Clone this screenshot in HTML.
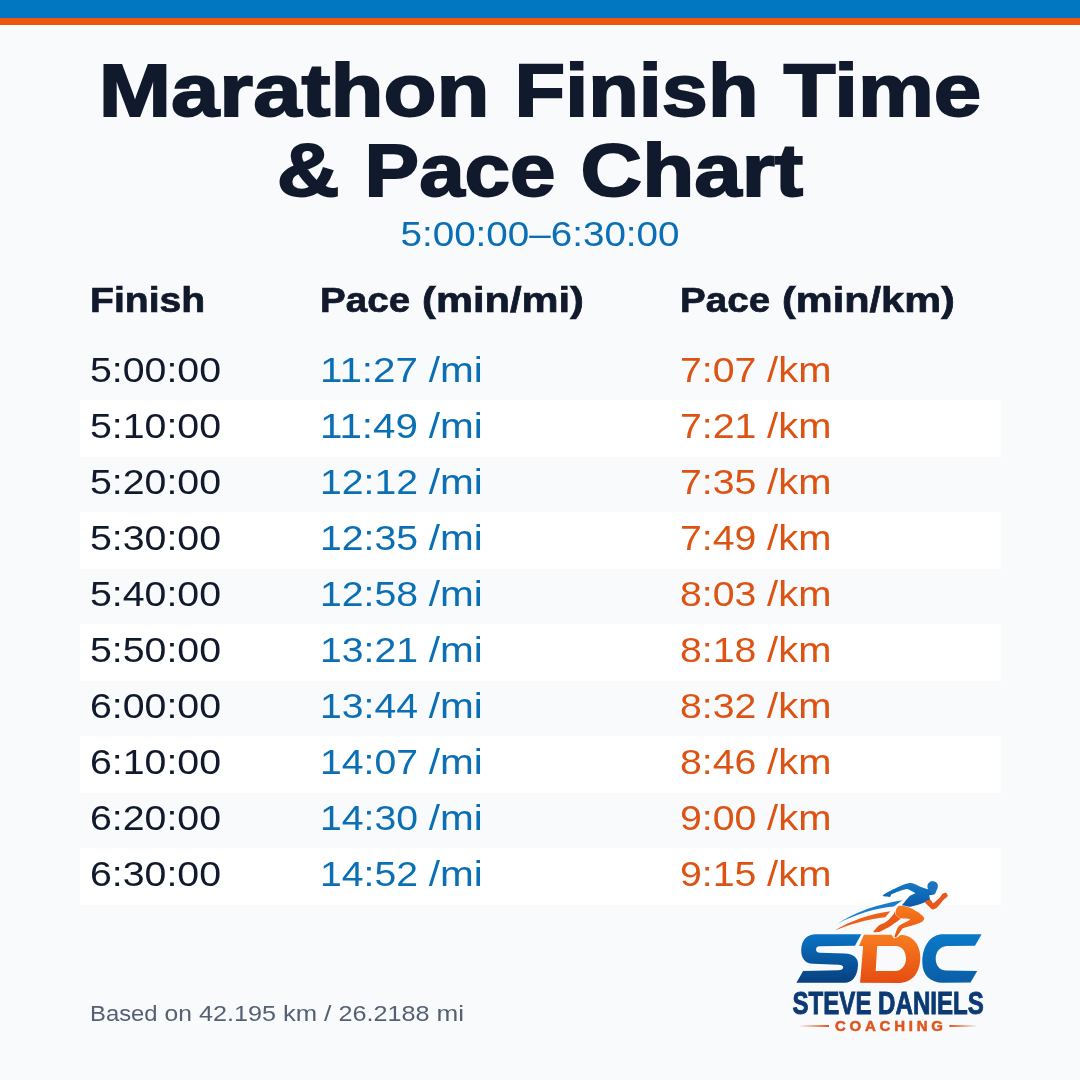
<!DOCTYPE html>
<html><head><meta charset="utf-8"><style>
html,body{margin:0;padding:0;background:#f8fafc;width:1080px;height:1080px;overflow:hidden}
svg{display:block;will-change:transform}
text{font-family:"Liberation Sans",sans-serif}
</style></head><body>
<svg width="1080" height="1080" viewBox="0 0 1080 1080">
<rect width="1080" height="1080" fill="#f8fafc"/>
<rect x="0" y="0" width="1080" height="18" fill="#0277c1"/>
<rect x="0" y="18" width="1080" height="7" fill="#ee5511"/>
<rect x="80" y="400" width="921" height="57" fill="#ffffff"/>
<rect x="80" y="512" width="921" height="57" fill="#ffffff"/>
<rect x="80" y="624" width="921" height="57" fill="#ffffff"/>
<rect x="80" y="736" width="921" height="57" fill="#ffffff"/>
<rect x="80" y="848" width="921" height="57" fill="#ffffff"/>
<text x="98.74" y="116.20" font-size="73.44" font-weight="700" fill="#111a2c" stroke="#111a2c" stroke-width="1.8" textLength="390.78" lengthAdjust="spacingAndGlyphs">Marathon</text>
<text x="514.59" y="116.20" font-size="73.44" font-weight="700" fill="#111a2c" stroke="#111a2c" stroke-width="1.8" textLength="243.95" lengthAdjust="spacingAndGlyphs">Finish</text>
<text x="783.60" y="116.20" font-size="73.44" font-weight="700" fill="#111a2c" stroke="#111a2c" stroke-width="1.8" textLength="197.66" lengthAdjust="spacingAndGlyphs">Time</text>
<text x="276.75" y="196.40" font-size="73.44" font-weight="700" fill="#111a2c" stroke="#111a2c" stroke-width="1.8" textLength="62.80" lengthAdjust="spacingAndGlyphs">&amp;</text>
<text x="364.61" y="196.40" font-size="73.44" font-weight="700" fill="#111a2c" stroke="#111a2c" stroke-width="1.8" textLength="190.94" lengthAdjust="spacingAndGlyphs">Pace</text>
<text x="580.61" y="196.40" font-size="73.44" font-weight="700" fill="#111a2c" stroke="#111a2c" stroke-width="1.8" textLength="222.64" lengthAdjust="spacingAndGlyphs">Chart</text>
<text x="400.47" y="246.00" font-size="34.68" font-weight="400" fill="#0a6fb5" stroke="#0a6fb5" stroke-width="0" textLength="279.06" lengthAdjust="spacingAndGlyphs">5:00:00–6:30:00</text>
<text x="90.00" y="312.00" font-size="35.53" font-weight="700" fill="#111a2c" stroke="#111a2c" stroke-width="0.7" textLength="115.17" lengthAdjust="spacingAndGlyphs">Finish</text>
<text x="320.00" y="312.00" font-size="35.53" font-weight="700" fill="#111a2c" stroke="#111a2c" stroke-width="0.7" textLength="90.17" lengthAdjust="spacingAndGlyphs">Pace</text>
<text x="422.02" y="312.00" font-size="35.53" font-weight="700" fill="#111a2c" stroke="#111a2c" stroke-width="0.7" textLength="161.88" lengthAdjust="spacingAndGlyphs">(min/mi)</text>
<text x="680.00" y="312.00" font-size="35.53" font-weight="700" fill="#111a2c" stroke="#111a2c" stroke-width="0.7" textLength="90.17" lengthAdjust="spacingAndGlyphs">Pace</text>
<text x="782.02" y="312.00" font-size="35.53" font-weight="700" fill="#111a2c" stroke="#111a2c" stroke-width="0.7" textLength="172.83" lengthAdjust="spacingAndGlyphs">(min/km)</text>
<text x="90.00" y="381.50" font-size="34.68" font-weight="400" fill="#111a2c" stroke="#111a2c" stroke-width="0" textLength="131.03" lengthAdjust="spacingAndGlyphs">5:00:00</text>
<text x="320.00" y="381.50" font-size="34.68" font-weight="400" fill="#0a6fb5" stroke="#0a6fb5" stroke-width="0" textLength="97.95" lengthAdjust="spacingAndGlyphs">11:27</text>
<text x="428.77" y="381.50" font-size="34.68" font-weight="400" fill="#0a6fb5" stroke="#0a6fb5" stroke-width="0" textLength="54.03" lengthAdjust="spacingAndGlyphs">/mi</text>
<text x="680.00" y="381.50" font-size="34.68" font-weight="400" fill="#dc5314" stroke="#dc5314" stroke-width="0" textLength="76.33" lengthAdjust="spacingAndGlyphs">7:07</text>
<text x="767.14" y="381.50" font-size="34.68" font-weight="400" fill="#dc5314" stroke="#dc5314" stroke-width="0" textLength="64.27" lengthAdjust="spacingAndGlyphs">/km</text>
<text x="90.00" y="437.50" font-size="34.68" font-weight="400" fill="#111a2c" stroke="#111a2c" stroke-width="0" textLength="131.03" lengthAdjust="spacingAndGlyphs">5:10:00</text>
<text x="320.00" y="437.50" font-size="34.68" font-weight="400" fill="#0a6fb5" stroke="#0a6fb5" stroke-width="0" textLength="97.95" lengthAdjust="spacingAndGlyphs">11:49</text>
<text x="428.77" y="437.50" font-size="34.68" font-weight="400" fill="#0a6fb5" stroke="#0a6fb5" stroke-width="0" textLength="54.03" lengthAdjust="spacingAndGlyphs">/mi</text>
<text x="680.00" y="437.50" font-size="34.68" font-weight="400" fill="#dc5314" stroke="#dc5314" stroke-width="0" textLength="76.33" lengthAdjust="spacingAndGlyphs">7:21</text>
<text x="767.14" y="437.50" font-size="34.68" font-weight="400" fill="#dc5314" stroke="#dc5314" stroke-width="0" textLength="64.27" lengthAdjust="spacingAndGlyphs">/km</text>
<text x="90.00" y="493.50" font-size="34.68" font-weight="400" fill="#111a2c" stroke="#111a2c" stroke-width="0" textLength="131.03" lengthAdjust="spacingAndGlyphs">5:20:00</text>
<text x="320.00" y="493.50" font-size="34.68" font-weight="400" fill="#0a6fb5" stroke="#0a6fb5" stroke-width="0" textLength="97.95" lengthAdjust="spacingAndGlyphs">12:12</text>
<text x="428.77" y="493.50" font-size="34.68" font-weight="400" fill="#0a6fb5" stroke="#0a6fb5" stroke-width="0" textLength="54.03" lengthAdjust="spacingAndGlyphs">/mi</text>
<text x="680.00" y="493.50" font-size="34.68" font-weight="400" fill="#dc5314" stroke="#dc5314" stroke-width="0" textLength="76.33" lengthAdjust="spacingAndGlyphs">7:35</text>
<text x="767.14" y="493.50" font-size="34.68" font-weight="400" fill="#dc5314" stroke="#dc5314" stroke-width="0" textLength="64.27" lengthAdjust="spacingAndGlyphs">/km</text>
<text x="90.00" y="549.50" font-size="34.68" font-weight="400" fill="#111a2c" stroke="#111a2c" stroke-width="0" textLength="131.03" lengthAdjust="spacingAndGlyphs">5:30:00</text>
<text x="320.00" y="549.50" font-size="34.68" font-weight="400" fill="#0a6fb5" stroke="#0a6fb5" stroke-width="0" textLength="97.95" lengthAdjust="spacingAndGlyphs">12:35</text>
<text x="428.77" y="549.50" font-size="34.68" font-weight="400" fill="#0a6fb5" stroke="#0a6fb5" stroke-width="0" textLength="54.03" lengthAdjust="spacingAndGlyphs">/mi</text>
<text x="680.00" y="549.50" font-size="34.68" font-weight="400" fill="#dc5314" stroke="#dc5314" stroke-width="0" textLength="76.33" lengthAdjust="spacingAndGlyphs">7:49</text>
<text x="767.14" y="549.50" font-size="34.68" font-weight="400" fill="#dc5314" stroke="#dc5314" stroke-width="0" textLength="64.27" lengthAdjust="spacingAndGlyphs">/km</text>
<text x="90.00" y="605.50" font-size="34.68" font-weight="400" fill="#111a2c" stroke="#111a2c" stroke-width="0" textLength="131.03" lengthAdjust="spacingAndGlyphs">5:40:00</text>
<text x="320.00" y="605.50" font-size="34.68" font-weight="400" fill="#0a6fb5" stroke="#0a6fb5" stroke-width="0" textLength="97.95" lengthAdjust="spacingAndGlyphs">12:58</text>
<text x="428.77" y="605.50" font-size="34.68" font-weight="400" fill="#0a6fb5" stroke="#0a6fb5" stroke-width="0" textLength="54.03" lengthAdjust="spacingAndGlyphs">/mi</text>
<text x="680.00" y="605.50" font-size="34.68" font-weight="400" fill="#dc5314" stroke="#dc5314" stroke-width="0" textLength="76.33" lengthAdjust="spacingAndGlyphs">8:03</text>
<text x="767.14" y="605.50" font-size="34.68" font-weight="400" fill="#dc5314" stroke="#dc5314" stroke-width="0" textLength="64.27" lengthAdjust="spacingAndGlyphs">/km</text>
<text x="90.00" y="661.50" font-size="34.68" font-weight="400" fill="#111a2c" stroke="#111a2c" stroke-width="0" textLength="131.03" lengthAdjust="spacingAndGlyphs">5:50:00</text>
<text x="320.00" y="661.50" font-size="34.68" font-weight="400" fill="#0a6fb5" stroke="#0a6fb5" stroke-width="0" textLength="97.95" lengthAdjust="spacingAndGlyphs">13:21</text>
<text x="428.77" y="661.50" font-size="34.68" font-weight="400" fill="#0a6fb5" stroke="#0a6fb5" stroke-width="0" textLength="54.03" lengthAdjust="spacingAndGlyphs">/mi</text>
<text x="680.00" y="661.50" font-size="34.68" font-weight="400" fill="#dc5314" stroke="#dc5314" stroke-width="0" textLength="76.33" lengthAdjust="spacingAndGlyphs">8:18</text>
<text x="767.14" y="661.50" font-size="34.68" font-weight="400" fill="#dc5314" stroke="#dc5314" stroke-width="0" textLength="64.27" lengthAdjust="spacingAndGlyphs">/km</text>
<text x="90.00" y="717.50" font-size="34.68" font-weight="400" fill="#111a2c" stroke="#111a2c" stroke-width="0" textLength="131.03" lengthAdjust="spacingAndGlyphs">6:00:00</text>
<text x="320.00" y="717.50" font-size="34.68" font-weight="400" fill="#0a6fb5" stroke="#0a6fb5" stroke-width="0" textLength="97.95" lengthAdjust="spacingAndGlyphs">13:44</text>
<text x="428.77" y="717.50" font-size="34.68" font-weight="400" fill="#0a6fb5" stroke="#0a6fb5" stroke-width="0" textLength="54.03" lengthAdjust="spacingAndGlyphs">/mi</text>
<text x="680.00" y="717.50" font-size="34.68" font-weight="400" fill="#dc5314" stroke="#dc5314" stroke-width="0" textLength="76.33" lengthAdjust="spacingAndGlyphs">8:32</text>
<text x="767.14" y="717.50" font-size="34.68" font-weight="400" fill="#dc5314" stroke="#dc5314" stroke-width="0" textLength="64.27" lengthAdjust="spacingAndGlyphs">/km</text>
<text x="90.00" y="773.50" font-size="34.68" font-weight="400" fill="#111a2c" stroke="#111a2c" stroke-width="0" textLength="131.03" lengthAdjust="spacingAndGlyphs">6:10:00</text>
<text x="320.00" y="773.50" font-size="34.68" font-weight="400" fill="#0a6fb5" stroke="#0a6fb5" stroke-width="0" textLength="97.95" lengthAdjust="spacingAndGlyphs">14:07</text>
<text x="428.77" y="773.50" font-size="34.68" font-weight="400" fill="#0a6fb5" stroke="#0a6fb5" stroke-width="0" textLength="54.03" lengthAdjust="spacingAndGlyphs">/mi</text>
<text x="680.00" y="773.50" font-size="34.68" font-weight="400" fill="#dc5314" stroke="#dc5314" stroke-width="0" textLength="76.33" lengthAdjust="spacingAndGlyphs">8:46</text>
<text x="767.14" y="773.50" font-size="34.68" font-weight="400" fill="#dc5314" stroke="#dc5314" stroke-width="0" textLength="64.27" lengthAdjust="spacingAndGlyphs">/km</text>
<text x="90.00" y="829.50" font-size="34.68" font-weight="400" fill="#111a2c" stroke="#111a2c" stroke-width="0" textLength="131.03" lengthAdjust="spacingAndGlyphs">6:20:00</text>
<text x="320.00" y="829.50" font-size="34.68" font-weight="400" fill="#0a6fb5" stroke="#0a6fb5" stroke-width="0" textLength="97.95" lengthAdjust="spacingAndGlyphs">14:30</text>
<text x="428.77" y="829.50" font-size="34.68" font-weight="400" fill="#0a6fb5" stroke="#0a6fb5" stroke-width="0" textLength="54.03" lengthAdjust="spacingAndGlyphs">/mi</text>
<text x="680.00" y="829.50" font-size="34.68" font-weight="400" fill="#dc5314" stroke="#dc5314" stroke-width="0" textLength="76.33" lengthAdjust="spacingAndGlyphs">9:00</text>
<text x="767.14" y="829.50" font-size="34.68" font-weight="400" fill="#dc5314" stroke="#dc5314" stroke-width="0" textLength="64.27" lengthAdjust="spacingAndGlyphs">/km</text>
<text x="90.00" y="885.50" font-size="34.68" font-weight="400" fill="#111a2c" stroke="#111a2c" stroke-width="0" textLength="131.03" lengthAdjust="spacingAndGlyphs">6:30:00</text>
<text x="320.00" y="885.50" font-size="34.68" font-weight="400" fill="#0a6fb5" stroke="#0a6fb5" stroke-width="0" textLength="97.95" lengthAdjust="spacingAndGlyphs">14:52</text>
<text x="428.77" y="885.50" font-size="34.68" font-weight="400" fill="#0a6fb5" stroke="#0a6fb5" stroke-width="0" textLength="54.03" lengthAdjust="spacingAndGlyphs">/mi</text>
<text x="680.00" y="885.50" font-size="34.68" font-weight="400" fill="#dc5314" stroke="#dc5314" stroke-width="0" textLength="76.33" lengthAdjust="spacingAndGlyphs">9:15</text>
<text x="767.14" y="885.50" font-size="34.68" font-weight="400" fill="#dc5314" stroke="#dc5314" stroke-width="0" textLength="64.27" lengthAdjust="spacingAndGlyphs">/km</text>
<text x="90.00" y="1021.00" font-size="22.44" font-weight="400" fill="#546174" stroke="#546174" stroke-width="0" textLength="67.55" lengthAdjust="spacingAndGlyphs">Based</text>
<text x="164.55" y="1021.00" font-size="22.44" font-weight="400" fill="#546174" stroke="#546174" stroke-width="0" textLength="27.39" lengthAdjust="spacingAndGlyphs">on</text>
<text x="198.94" y="1021.00" font-size="22.44" font-weight="400" fill="#546174" stroke="#546174" stroke-width="0" textLength="77.00" lengthAdjust="spacingAndGlyphs">42.195</text>
<text x="282.94" y="1021.00" font-size="22.44" font-weight="400" fill="#546174" stroke="#546174" stroke-width="0" textLength="34.17" lengthAdjust="spacingAndGlyphs">km</text>
<text x="324.11" y="1021.00" font-size="22.44" font-weight="400" fill="#546174" stroke="#546174" stroke-width="0" textLength="7.41" lengthAdjust="spacingAndGlyphs">/</text>
<text x="338.52" y="1021.00" font-size="22.44" font-weight="400" fill="#546174" stroke="#546174" stroke-width="0" textLength="91.00" lengthAdjust="spacingAndGlyphs">26.2188</text>
<text x="436.52" y="1021.00" font-size="22.44" font-weight="400" fill="#546174" stroke="#546174" stroke-width="0" textLength="27.55" lengthAdjust="spacingAndGlyphs">mi</text>
<g id="logo">
<defs>
<linearGradient id="gS" x1="0" y1="0" x2="0" y2="1"><stop offset="0" stop-color="#0a74c4"/><stop offset="1" stop-color="#073f80"/></linearGradient>
<linearGradient id="gD" x1="0" y1="0" x2="0" y2="1"><stop offset="0" stop-color="#f77d1f"/><stop offset="1" stop-color="#e54c12"/></linearGradient>
<linearGradient id="gC" x1="0" y1="0" x2="0" y2="1"><stop offset="0" stop-color="#0a7ac8"/><stop offset="1" stop-color="#0a5ea6"/></linearGradient>
<linearGradient id="gB" x1="0" y1="0" x2="0" y2="1"><stop offset="0" stop-color="#1478c6"/><stop offset="1" stop-color="#0a5aa8"/></linearGradient>
<linearGradient id="gO" x1="0" y1="0" x2="0" y2="1"><stop offset="0" stop-color="#f77b1c"/><stop offset="1" stop-color="#e85514"/></linearGradient>
</defs>
<!-- S -->
<path d="M 861.3 934.3 L 855 945.8 L 819.5 946.3 Q 816 946.6 816 949.6 Q 816.3 952.8 820 952.8 L 845 953.4 C 853.5 953.6 858.5 958 858 965 C 857.5 977 852 982.6 845 982.8 L 796.4 982.8 L 803.1 971 L 838 970.3 Q 843.2 970 843.2 967.5 Q 843 964.7 838.5 964.7 L 813 963.8 C 805 963.6 801 958 801.2 950 C 801.5 940 807 934.3 816.4 934.3 Z" fill="url(#gS)"/>
<!-- D -->
<path d="M 863.9 934.8 L 891.3 934.8 L 894.2 938.5 L 897.9 937 L 900.9 934.8 C 913 935.5 920.5 945 920.3 958 C 920 973 912 983 898 983 L 860.1 982.8 L 863.1 946 L 859 946 Z M 877.2 945.9 L 875.7 971.1 L 895 971.1 C 901 971 906 966 906 958.5 C 906 951 901.5 945.9 896 945.9 Z" fill="url(#gD)" fill-rule="evenodd"/>
<!-- C -->
<path d="M 981.6 934.3 L 975 945.7 L 946.8 946.1 C 940 946.5 935.7 952 935.7 959 C 935.7 965.5 940 970.6 946.5 970.6 L 977.2 970.9 L 970.5 982.4 L 943.1 982.8 C 930 982.6 922.2 975 922.3 962 C 922.5 945 931 934.3 943.1 934.3 Z" fill="url(#gC)"/>
<text x="792.5" y="1014.2" font-size="31.7" font-weight="700" fill="#0b3a74" stroke="#0b3a74" stroke-width="0.9" textLength="191.3" lengthAdjust="spacingAndGlyphs" style="font-family:'Liberation Sans',sans-serif">STEVE DANIELS</text>
<text x="835" y="1031.3" font-size="15" font-weight="700" fill="#e0551b" stroke="#e0551b" stroke-width="0.5" textLength="108" lengthAdjust="spacing" style="font-family:'Liberation Sans',sans-serif">COACHING</text>
<path d="M 798.6 1026 L 829 1025.1 L 829 1026.9 Z" fill="#e0551b"/>
<path d="M 977.6 1026 L 949.4 1025.1 L 949.4 1026.9 Z" fill="#e0551b"/>
<!-- swooshes -->
<path d="M 837 923.9 C 855 912 878 904 902.6 900.2 L 893.7 906.5 C 876 908 856 914 837 923.9 Z" fill="#1a7ccc"/>
<path d="M 834.8 930.6 C 850 921 870 914 890.4 911.3 L 885.2 917.2 C 868 919 850 924 834.8 930.6 Z" fill="#ee5f18"/>
<path d="M 927.41 886.11 C 927.41 884.19 928.15 883.37 929.26 882.41 C 930.37 881.44 931.41 881.15 932.96 881.30 C 934.52 881.44 936.07 881.96 937.04 883.15 C 938.00 884.33 937.93 885.67 937.78 887.22 C 937.63 888.78 936.81 889.67 936.30 890.93 C 935.78 892.19 935.85 892.78 935.19 893.52 C 934.52 894.26 934.15 894.93 932.96 894.63 C 931.78 894.33 930.37 893.74 929.26 892.04 C 928.15 890.33 927.41 888.04 927.41 886.11 Z" fill="#1a74c2"/>
<path d="M 882.59 895.37 C 882.78 895.03 886.05 892.96 887.04 892.41 C 888.02 891.85 893.09 889.35 894.44 888.70 C 895.80 888.06 902.10 885.10 903.33 884.63 C 904.57 884.15 908.33 883.06 909.26 883.00 C 910.19 882.94 913.40 883.54 914.44 883.89 C 915.49 884.24 920.80 886.79 921.85 887.22 C 922.90 887.65 926.42 888.86 927.04 889.07 C 927.65 889.29 928.77 889.37 929.26 889.81 C 929.75 890.26 932.96 893.94 932.96 894.41 C 932.96 894.87 929.51 894.95 929.26 895.37 C 929.01 895.79 930.25 898.92 930.00 899.44 C 929.75 899.97 927.28 901.23 926.30 901.67 C 925.31 902.10 919.57 904.20 918.15 904.63 C 916.73 905.06 910.62 906.76 909.26 906.85 C 907.90 906.94 902.22 906.17 901.85 905.74 C 901.48 905.31 904.14 902.50 904.81 901.67 C 905.49 900.83 909.14 896.45 910.00 895.74 C 910.86 895.03 915.06 893.55 915.19 893.15 C 915.31 892.75 912.16 891.27 911.48 890.93 C 910.80 890.59 908.02 889.07 907.04 889.07 C 906.05 889.07 900.93 890.49 899.63 890.93 C 898.33 891.36 892.28 893.77 891.48 894.26 C 890.68 894.75 890.56 896.67 890.00 896.85 C 889.44 897.04 885.43 896.60 884.81 896.48 C 884.20 896.36 882.41 895.71 882.59 895.37 Z" fill="url(#gB)"/>
<path d="M 926.67 900.56 C 927.19 900.26 929.70 899.19 930.37 899.44 C 931.04 899.70 932.39 903.33 933.33 903.15 C 934.27 902.96 938.89 898.52 939.78 897.59 C 940.67 896.67 941.61 894.37 942.22 893.89 C 942.84 893.41 945.37 892.56 945.93 892.78 C 946.48 893.00 948.00 895.41 947.78 896.11 C 947.56 896.81 944.78 898.67 943.70 899.81 C 942.63 900.96 938.15 906.63 937.04 907.59 C 935.93 908.56 933.48 909.63 932.59 909.44 C 931.70 909.26 928.89 906.44 928.15 905.74 C 927.41 905.04 925.33 902.93 925.19 902.41 C 925.04 901.89 926.15 900.85 926.67 900.56 Z" fill="#e9581a"/>
<path d="M 895.56 910.56 C 895.79 910.56 895.65 913.84 896.11 914.44 C 896.57 915.05 900.97 917.22 901.11 917.78 C 901.25 918.33 898.52 920.51 897.78 921.11 C 897.04 921.71 893.15 924.40 892.22 925.00 C 891.30 925.60 887.69 927.78 886.67 928.33 C 885.65 928.89 881.11 931.37 880.00 931.67 C 878.89 931.97 873.38 932.50 873.33 931.94 C 873.29 931.39 878.56 925.72 879.44 925.00 C 880.32 924.28 883.15 923.75 883.89 923.33 C 884.63 922.92 887.55 920.74 888.33 920.00 C 889.12 919.26 892.73 915.23 893.33 914.44 C 893.94 913.66 895.32 910.56 895.56 910.56 Z" fill="#ea5a17" stroke="#ffffff" stroke-width="1" paint-order="stroke"/>
<path d="M 896.11 909.44 C 896.39 908.77 898.19 906.11 898.89 905.83 C 899.58 905.56 903.43 905.90 904.44 906.11 C 905.46 906.32 909.91 907.78 911.11 908.33 C 912.31 908.89 917.87 912.08 918.89 912.78 C 919.91 913.47 922.89 916.16 923.33 916.67 C 923.77 917.18 924.26 918.47 924.17 918.89 C 924.07 919.31 922.94 921.20 922.22 921.67 C 921.50 922.13 916.76 924.03 915.56 924.44 C 914.35 924.86 908.84 926.34 907.78 926.67 C 906.71 926.99 903.43 927.87 902.78 928.33 C 902.13 928.80 900.56 931.48 900.00 932.22 C 899.44 932.96 896.57 936.85 896.11 937.22 C 895.65 937.59 894.40 937.27 894.44 936.67 C 894.49 936.06 896.30 930.88 896.67 930.00 C 897.04 929.12 898.33 926.67 898.89 926.11 C 899.44 925.56 902.50 923.80 903.33 923.33 C 904.17 922.87 908.33 920.90 908.89 920.56 C 909.44 920.21 910.28 919.33 910.00 919.17 C 909.72 919.00 906.30 918.68 905.56 918.61 C 904.81 918.54 901.76 918.50 901.11 918.33 C 900.46 918.17 898.24 917.04 897.78 916.67 C 897.31 916.30 895.69 914.49 895.56 913.89 C 895.42 913.29 895.83 910.12 896.11 909.44 Z" fill="url(#gO)" stroke="#ffffff" stroke-width="1" paint-order="stroke"/>

</g>

</svg>
</body></html>
